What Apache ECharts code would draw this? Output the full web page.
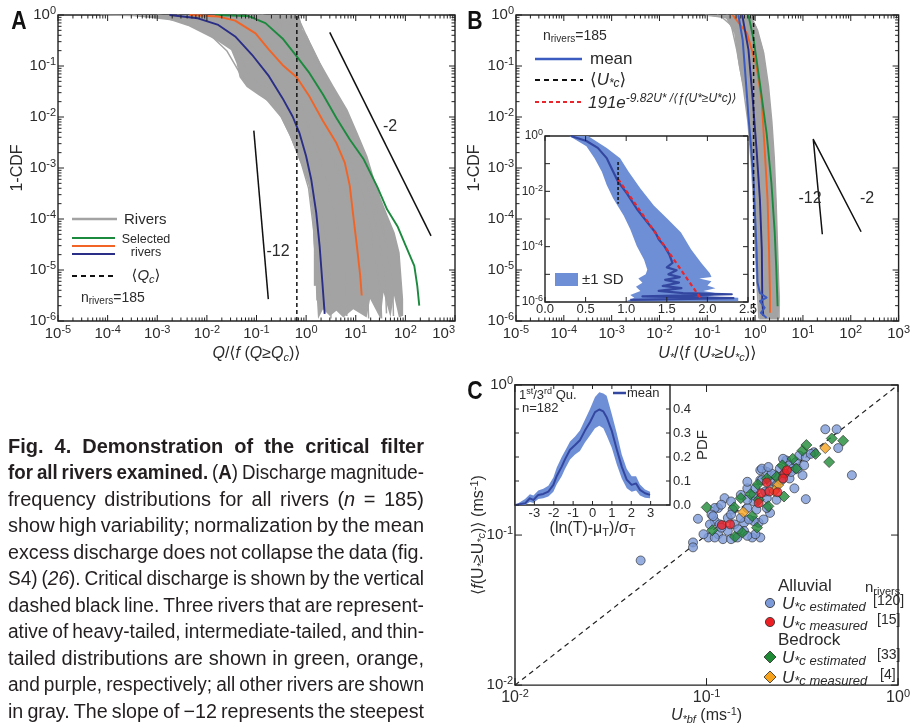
<!DOCTYPE html>
<html><head><meta charset="utf-8">
<script src="https://cdn.jsdelivr.net/npm/echarts@6/dist/echarts.min.js"></script>
<style>html,body{margin:0;padding:0;background:#fff}#c{width:913px;height:726px}</style>
</head><body><div id="c"></div><script>
// ---------------- DATA (exponents = log10 values) ----------------
// Panel A: [log10 x, log10 (1-CDF)]
const aBlueLog = [[-2.755,0],[-2.18,-0.065],[-1.77,-0.195],[-1.43,-0.42],[-1.09,-0.78],[-0.75,-1.2],[-0.476,-1.63],[-0.272,-1.99],[-0.136,-2.31],[0,-2.77],[0.102,-3.22],[0.204,-3.88],[0.272,-4.53],[0.327,-5.24],[0.374,-5.86]];
const aOrangeLog = [[-2.35,0],[-1.77,-0.03],[-1.43,-0.11],[-1.02,-0.36],[-0.75,-0.68],[-0.476,-0.98],[-0.19,-1.22],[0.068,-1.60],[0.34,-2.08],[0.61,-2.51],[0.78,-2.90],[0.88,-3.35],[0.95,-3.94],[1.03,-4.59],[1.09,-5.11],[1.12,-5.50]];
const aGreenLog = [[-1.84,0],[-1.16,-0.02],[-0.82,-0.16],[-0.476,-0.46],[-0.19,-0.81],[0.068,-1.14],[0.34,-1.56],[0.61,-2.02],[0.88,-2.44],[1.16,-2.83],[1.43,-3.36],[1.63,-3.81],[1.84,-4.14],[2.01,-4.53],[2.18,-4.92],[2.24,-5.31],[2.28,-5.70]];
const aGrayEnvelopeLog = [[-4.15,0],[-0.14,0],[-0.07,-0.29],[0.07,-0.55],[0.27,-0.94],[0.54,-1.40],[0.82,-1.86],[1.02,-2.31],[1.22,-2.77],[1.36,-3.22],[1.50,-3.62],[1.63,-3.94],[1.77,-4.27],[1.87,-4.66],[1.90,-5.05],[1.94,-5.57],[1.94,-5.90],[1.87,-5.93],[1.77,-5.50],[1.70,-5.93],[1.56,-5.44],[1.50,-5.96],[1.29,-5.57],[1.22,-5.93],[0.95,-5.77],[0.75,-5.93],[0.61,-5.80],[0.48,-5.90],[0.34,-5.77],[0.24,-5.96],[0.20,-5.31],[0.17,-5.31],[0.17,-4.59],[0.14,-3.94],[0.07,-3.36],[-0.07,-2.96],[-0.20,-2.64],[-0.34,-2.31],[-0.54,-1.92],[-0.75,-1.69],[-0.95,-1.56],[-1.19,-1.40],[-1.33,-1.21],[-1.39,-0.94],[-1.50,-0.68],[-1.84,-0.46],[-2.11,-0.33],[-2.38,-0.20],[-2.79,-0.07],[-3.47,-0.01]];
const aGrayRiversLog = [
 [[-4.15,0],[-3.47,-0.01],[-2.79,-0.07],[-2.38,-0.20],[-2.11,-0.33],[-1.84,-0.46],[-1.50,-0.68],[-1.39,-0.94],[-1.33,-1.21],[-1.19,-1.40],[-0.95,-1.56],[-0.75,-1.69],[-0.54,-1.92],[-0.34,-2.31],[-0.20,-2.64],[-0.07,-2.96],[0.07,-3.36],[0.14,-3.94],[0.17,-4.59],[0.17,-5.31]],
 [[-3.0,0],[-2.2,-0.1],[-1.7,-0.3],[-1.45,-0.55],[-1.3,-0.85],[-1.2,-1.1],[-1.0,-1.3],[-0.7,-1.5],[-0.45,-1.75],[-0.25,-2.1],[-0.05,-2.6],[0.1,-3.1],[0.2,-3.7],[0.25,-4.4],[0.27,-5.0],[0.28,-5.8]],
 [[-1.2,0],[-0.4,-0.02],[-0.14,-0.1],[0.07,-0.55],[0.27,-0.94],[0.54,-1.40],[0.82,-1.86],[1.02,-2.31],[1.22,-2.77],[1.36,-3.22],[1.50,-3.62],[1.63,-3.94],[1.77,-4.27],[1.87,-4.66],[1.90,-5.05],[1.94,-5.57],[1.94,-5.90]],
 [[-1.0,0],[-0.3,-0.05],[0.0,-0.4],[0.3,-1.0],[0.6,-1.6],[0.9,-2.3],[1.15,-2.9],[1.35,-3.5],[1.5,-4.0],[1.62,-4.5],[1.7,-5.0],[1.75,-5.5],[1.76,-5.9]],
 [[-1.4,0],[-0.6,-0.1],[-0.2,-0.5],[0.1,-1.1],[0.4,-1.7],[0.7,-2.4],[0.95,-3.0],[1.15,-3.6],[1.3,-4.2],[1.4,-4.8],[1.5,-5.4],[1.52,-5.95]],
 [[-1.8,0],[-0.9,-0.15],[-0.45,-0.6],[-0.1,-1.3],[0.2,-2.0],[0.5,-2.7],[0.75,-3.3],[0.95,-3.9],[1.1,-4.5],[1.2,-5.1],[1.25,-5.7],[1.26,-5.95]],
 [[-2.2,0],[-1.2,-0.2],[-0.7,-0.6],[-0.35,-1.2],[-0.05,-1.9],[0.2,-2.6],[0.45,-3.3],[0.6,-4.0],[0.72,-4.7],[0.8,-5.3],[0.82,-5.9]],
 [[-2.6,0],[-1.6,-0.25],[-1.0,-0.7],[-0.6,-1.3],[-0.3,-1.9],[-0.05,-2.6],[0.2,-3.3],[0.35,-4.0],[0.45,-4.8],[0.5,-5.5],[0.5,-5.95]],
 [[-0.9,0],[-0.2,-0.2],[0.15,-0.8],[0.5,-1.5],[0.85,-2.2],[1.1,-2.9],[1.3,-3.6],[1.45,-4.3],[1.55,-4.9],[1.6,-5.4],[1.62,-5.85]],
 [[-3.5,0],[-2.5,-0.12],[-1.9,-0.42],[-1.6,-0.7],[-1.45,-0.95],[-1.3,-1.2],[-1.05,-1.45],[-0.8,-1.65],[-0.5,-2.0],[-0.3,-2.4],[-0.1,-2.9],[0.05,-3.4],[0.15,-4.2],[0.2,-5.0],[0.22,-5.6]]
];
const aQc = 0.65;
const aSlope2Log = [[0.476,-0.34],[2.517,-4.33]];
const aSlope12Log = [[-1.054,-2.267],[-0.762,-5.57]];

// Panel B
const bGrayBandLog = [[-1.05,0],[-0.61,-0.065],[-0.44,-0.36],[-0.34,-1.01],[-0.20,-1.66],[-0.135,-2.32],[-0.07,-2.97],[-0.03,-3.62],[0.0,-4.27],[0.03,-4.92],[0.07,-5.58],[0.09,-5.97],[0.49,-5.97],[0.51,-5.58],[0.47,-4.6],[0.44,-3.62],[0.39,-2.64],[0.34,-1.99],[0.27,-1.34],[0.17,-0.68],[0.03,-0.23],[-0.10,0]];
const bGrayRiversLog = [
 [[-1.05,0],[-0.7,-0.04],[-0.5,-0.2],[-0.38,-0.7],[-0.25,-1.4],[-0.15,-2.1],[-0.08,-2.9],[-0.03,-3.7],[0.0,-4.5],[0.04,-5.3],[0.08,-5.95]],
 [[-0.1,0],[0.05,-0.3],[0.18,-0.75],[0.28,-1.4],[0.35,-2.1],[0.4,-2.8],[0.44,-3.7],[0.47,-4.6],[0.5,-5.5],[0.5,-5.95]],
 [[-0.8,0],[-0.45,-0.1],[-0.3,-0.5],[-0.15,-1.2],[-0.05,-2.0],[0.05,-2.8],[0.12,-3.6],[0.18,-4.5],[0.22,-5.4],[0.24,-5.95]],
 [[-0.6,0],[-0.3,-0.1],[-0.1,-0.6],[0.05,-1.3],[0.15,-2.0],[0.25,-2.9],[0.32,-3.8],[0.37,-4.7],[0.4,-5.6],[0.41,-5.95]]
];
const bMeanLog = [[-0.35,0],[-0.26,-0.49],[-0.19,-1.34],[-0.14,-1.99],[-0.08,-2.64],[-0.03,-3.29],[0.0,-3.95],[0.03,-4.6],[0.05,-5.25],[0.10,-5.45],[0.24,-5.54],[0.10,-5.61],[0.20,-5.74],[0.12,-5.84],[0.24,-5.94]];
const bBlueLog = [[-0.27,0],[-0.14,-0.68],[-0.05,-1.66],[0.03,-2.64],[0.10,-3.62],[0.14,-4.6],[0.15,-5.58],[0.17,-5.9]];
const bOrangeLog = [[-0.47,0],[-0.17,-0.36],[0.03,-1.01],[0.135,-1.66],[0.2,-2.64],[0.26,-3.62],[0.29,-4.6],[0.31,-5.45],[0.31,-5.84]];
const bGreenLog = [[-0.14,0],[-0.03,-0.49],[0.10,-1.34],[0.24,-2.32],[0.34,-3.29],[0.41,-4.27],[0.44,-4.92],[0.47,-5.71]];
const bUc = 0.93;
const bSlopeLog = [[1.405,-4.30],[1.216,-2.44],[2.216,-4.25]];

// Panel B inset: [x, log10 y]
const insBandLog = [[0.25,0],[0.53,0],[0.76,-0.43],[0.925,-0.8],[1.03,-1.29],[1.175,-1.90],[1.34,-2.51],[1.51,-3.0],[1.675,-3.49],[1.8,-4.1],[1.925,-4.59],[2.03,-4.96],[2.05,-5.1],[1.9,-5.15],[2.05,-5.25],[2.0,-5.4],[2.1,-5.5],[1.95,-5.6],[2.15,-5.7],[2.0,-5.8],[2.38,-5.85],[2.38,-5.97],[1.0,-5.97],[1.1,-5.85],[1.05,-5.75],[1.175,-5.6],[1.12,-5.45],[1.2,-5.3],[1.15,-5.15],[1.24,-5.0],[1.26,-4.83],[1.22,-4.47],[1.13,-3.98],[1.05,-3.37],[0.97,-2.88],[0.84,-2.26],[0.76,-1.77],[0.7,-1.29],[0.61,-0.8],[0.51,-0.37],[0.3,0]];
const insMeanLog = [[0.32,0],[0.51,-0.18],[0.65,-0.43],[0.76,-0.8],[0.84,-1.29],[0.9,-1.65],[1.01,-2.08],[1.13,-2.63],[1.26,-3.12],[1.36,-3.49],[1.40,-3.73],[1.47,-3.98],[1.53,-4.28],[1.57,-4.59],[1.50,-4.75],[1.62,-4.85],[1.52,-5.0],[1.66,-5.1],[1.48,-5.2],[1.65,-5.3],[1.45,-5.42],[1.68,-5.5],[1.40,-5.6],[1.70,-5.68],[2.30,-5.72],[1.20,-5.8],[2.32,-5.86],[1.05,-5.92]];
const insFitLog = [[0.9,-1.56],[1.92,-5.88]];
const insUcLog = [[0.9,-0.94],[0.9,-2.45]];

// Panel C (m/s)
const cAlluvialEstimated = [[0.0453,0.0677],[0.574,0.2506],[0.417,0.507],[0.478,0.507],[0.487,0.380],[0.330,0.1735],[0.2876,0.2048],[0.3171,0.2506],[0.0902,0.1283],[0.0850,0.0893],[0.0850,0.0828],[0.1104,0.1239],[0.1149,0.1013],[0.1218,0.0939],[0.1022,0.0963],[0.1292,0.1302],[0.1396,0.1178],[0.1570,0.1208],[0.1872,0.1208],[0.1909,0.0963],[0.1731,0.0963],[0.1242,0.1762],[0.1149,0.1515],[0.1104,0.1515],[0.1343,0.1675],[0.1510,0.1852],[0.1633,0.2048],[0.1909,0.2702],[0.2064,0.2634],[0.2146,0.2265],[0.2320,0.1718],[0.2146,0.1405],[0.2609,0.3143],[0.2713,0.2914],[0.2934,0.3064],[0.3050,0.3389],[0.3298,0.3305],[0.3636,0.3564],[0.1292,0.1065],[0.1570,0.1065],[0.1765,0.1852],[0.2064,0.1762],[0.2413,0.2771],[0.2509,0.2506],[0.2320,0.2154],[0.1633,0.1515],[0.1765,0.1675],[0.1909,0.2324],[0.1947,0.2771],[0.2024,0.1949],[0.2713,0.2382],[0.1369,0.1477],[0.1062,0.1370],[0.0964,0.1013],[0.1104,0.0963],[0.1510,0.1302],[0.1765,0.1239],[0.1800,0.1013],[0.1343,0.0939],[0.2275,0.2506],[0.2820,0.2771],[0.3498,0.3475],[0.1633,0.2265],[0.2509,0.3222],[0.2064,0.1515],[0.1194,0.1593],
 [0.1083,0.1336],[0.1171,0.1178],[0.1343,0.1370],[0.1463,0.1092],[0.1665,0.1270],[0.1821,0.1477],[0.1985,0.1270],[0.1633,0.1718],[0.1800,0.2048],[0.1947,0.2324],[0.2188,0.2570],[0.2460,0.2324],[0.2766,0.2634],[0.2992,0.2771],[0.3234,0.2914],[0.2104,0.2842],[0.1194,0.1120],[0.1042,0.1178],[0.1451,0.0963],[0.1633,0.0988]];
const cAlluvialMeasured = [[0.1203,0.1166],[0.1327,0.1178],[0.1872,0.1633],[0.1931,0.1900],[0.2064,0.2243],[0.2129,0.1949],[0.2348,0.1929],[0.2558,0.2570],[0.2629,0.2702],[0.2509,0.2382]];
const cBedrockEstimated = [[0.1002,0.1530],[0.1071,0.1076],[0.1396,0.1530],[0.1407,0.0973],[0.1539,0.1039],[0.1835,0.1120],[0.1510,0.1762],[0.1698,0.1871],[0.1850,0.2176],[0.2104,0.1554],[0.2538,0.1806],[0.2320,0.2443],[0.2489,0.2914],[0.2820,0.3222],[0.3171,0.3654],[0.3323,0.3981],[0.3708,0.3475],[0.4508,0.4403],[0.5168,0.4251],[0.4368,0.3064],[0.2064,0.2382],[0.1731,0.1336],[0.2934,0.2771],[0.1872,0.1718]];
const cBedrockMeasured = [[0.1558,0.1418],[0.2366,0.2154],[0.417,0.380],[0.2258,0.1968]];
const cOneToOne = [[0.01,0.01],[1,1]];

// Panel C inset
const insCx =    [-3.98,-3.48,-3.23,-3.05,-2.8,-2.54,-2.28,-2.02,-1.85,-1.59,-1.42,-1.16,-0.90,-0.65,-0.39,-0.13,0.13,0.35,0.56,0.73,0.99,1.25,1.51,1.77,2.02,2.25,2.45,2.71,2.97];
const insCMean = [0,0.007,0.028,0.021,0.042,0.046,0.056,0.084,0.12,0.16,0.19,0.23,0.25,0.27,0.31,0.345,0.387,0.398,0.39,0.366,0.31,0.232,0.16,0.105,0.084,0.09,0.063,0.049,0.042];
const insCUpper = [0,0.025,0.045,0.04,0.06,0.068,0.08,0.115,0.155,0.2,0.225,0.265,0.285,0.31,0.355,0.40,0.45,0.47,0.465,0.455,0.38,0.30,0.21,0.15,0.12,0.12,0.085,0.065,0.055];
const insCLower = [0,0,0.012,0.008,0.025,0.028,0.035,0.055,0.085,0.12,0.15,0.19,0.21,0.225,0.26,0.29,0.32,0.33,0.32,0.29,0.24,0.17,0.11,0.07,0.055,0.06,0.04,0.03,0.028];

// Tick label exponents / values
const aXExps = [-5,-4,-3,-2,-1,0,1,2,3];
const aYExps = [-6,-5,-4,-3,-2,-1,0];
const cExps = [-2,-1,0];
const insBX = [0,0.5,1,1.5,2,2.5];
const insCXTicks = [-3,-2,-1,0,1,2,3];
const insCYTicks = [0,0.1,0.2,0.3,0.4];

// ---------------- HELPERS ----------------
const FONT = '"Liberation Sans", Arial, "DejaVu Sans", sans-serif';
const CAPFONT = '"Liberation Sans", Arial, sans-serif';
const TXT = '#2b2b2b';
const GRAY = '#a3a3a3';
const toVal = a => a.map(p => [Math.pow(10, p[0]), Math.pow(10, p[1])]);
const toValY = a => a.map(p => [p[0], Math.pow(10, p[1])]);

const supRich = (fs, ss, raise) => ({
  b: {fontSize: fs, fontFamily: FONT, color: TXT},
  s: {fontSize: ss, fontFamily: FONT, color: TXT, padding: [0, 0, raise, 0]}
});
const logFmt = v => '{b|10}{s|' + Math.round(Math.log10(v)) + '}';

function line(xi, yi, data, color, width, z, dash) {
  return {type: 'line', xAxisIndex: xi, yAxisIndex: yi, data, showSymbol: false, symbol: 'none',
    silent: true, z: z || 3, clip: true,
    lineStyle: {color, width, type: dash || 'solid', cap: 'butt', join: 'round'}};
}
function poly(xi, yi, pts, color, z, opacity) {
  return {type: 'custom', xAxisIndex: xi, yAxisIndex: yi, silent: true, z: z || 1, clip: true,
    data: [pts[0]],
    renderItem(params, api) {
      return {type: 'polygon', shape: {points: pts.map(p => api.coord(p))},
        style: {fill: color, opacity: opacity == null ? 1 : opacity}};
    }};
}
function ticks(xi, yi, items) {
  return {type: 'custom', xAxisIndex: xi, yAxisIndex: yi, silent: true, z: 10, clip: false,
    data: items.map(it => [it[0], it[1]]),
    renderItem(params, api) {
      const it = items[params.dataIndex];
      const cs = params.coordSys;
      const p = api.coord([it[0], it[1]]);
      const kind = it[2], len = it[3];
      const L = [];
      if (kind === 0) {
        L.push([p[0], cs.y + cs.height, p[0], cs.y + cs.height - len]);
        L.push([p[0], cs.y, p[0], cs.y + len]);
      } else {
        L.push([cs.x, p[1], cs.x + len, p[1]]);
        L.push([cs.x + cs.width, p[1], cs.x + cs.width - len, p[1]]);
      }
      return {type: 'group', children: L.map(l => ({type: 'line',
        shape: {x1: l[0], y1: l[1], x2: l[2], y2: l[3]}, style: {stroke: '#222', lineWidth: 1}}))};
    }};
}
function logTickItems(exps, refOther, isY, major, minor) {
  const items = [];
  exps.forEach((e, i) => {
    const base = Math.pow(10, e);
    items.push(isY ? [refOther, base, 1, major] : [base, refOther, 0, major]);
    if (minor && i < exps.length - 1) for (let k = 2; k <= 9; k++) {
      const v = k * base;
      items.push(isY ? [refOther, v, 1, minor] : [v, refOther, 0, minor]);
    }
  });
  return items;
}
function linTickItems(vals, refOther, isY, len) {
  return vals.map(v => isY ? [refOther, v, 1, len] : [v, refOther, 0, len]);
}

// ---------------- AXES ----------------
const nameRich = {
  n: {fontSize: 16, fontFamily: FONT, color: TXT},
  i: {fontSize: 16, fontFamily: FONT, color: TXT, fontStyle: 'italic'},
  sub: {fontSize: 11, fontFamily: FONT, color: TXT, fontStyle: 'italic', padding: [7, 0, 0, 0]},
  sup: {fontSize: 11, fontFamily: FONT, color: TXT, padding: [0, 0, 8, 0]}
};
function logAxis(gi, min, max, isY, extra) {
  return Object.assign({type: 'log', logBase: 10, gridIndex: gi, min, max,
    axisLine: {show: false}, axisTick: {show: false}, splitLine: {show: false},
    axisLabel: {formatter: logFmt, rich: supRich(15, 11, 8), margin: isY ? 2 : 3}}, extra || {});
}
const xAxes = [
  logAxis(0, 1e-5, 1e3, false, {name: '{i|Q}{n|/⟨}{i|f}{n| (}{i|Q}{n|≥}{i|Q}{sub|c}{n|)⟩}', nameLocation: 'middle', nameGap: 24,
    nameTextStyle: {rich: nameRich}, axisLabel: {formatter: logFmt, rich: supRich(15, 11, 8), margin: 3, alignMaxLabel: 'right'}}),
  logAxis(1, 1e-5, 1e3, false, {name: '{i|U}{sub|*}{n|/⟨}{i|f}{n| (}{i|U}{sub|*}{n|≥}{i|U}{sub|*c}{n|)⟩}', nameLocation: 'middle', nameGap: 24,
    nameTextStyle: {rich: nameRich}}),
  {type: 'value', gridIndex: 2, min: 0, max: 2.5, interval: 0.5, axisLine: {show: false}, axisTick: {show: false}, splitLine: {show: false},
    axisLabel: {fontSize: 13, fontFamily: FONT, color: TXT, margin: 1, formatter: v => v.toFixed(1)}},
  logAxis(3, 0.01, 1, false, {name: '{i|U}{sub|*bf}{n| (ms}{sup|-1}{n|)}', nameLocation: 'middle', nameGap: 20, nameTextStyle: {rich: nameRich},
    axisLabel: {formatter: logFmt, rich: supRich(16, 11, 8), margin: 3}}),
  {type: 'value', gridIndex: 4, min: -4, max: 4, interval: 1, axisLine: {show: false}, axisTick: {show: false}, splitLine: {show: false},
    axisLabel: {fontSize: 13, fontFamily: FONT, color: TXT, margin: 2, formatter: v => (insCXTicks.indexOf(v) >= 0 ? String(v) : '')},
    name: '(ln(T)-μ{sub|T})/σ{sub|T}', nameLocation: 'middle', nameGap: 15,
    nameTextStyle: {fontSize: 16, fontFamily: FONT, color: TXT, rich: {sub: {fontSize: 11, fontFamily: FONT, color: TXT, padding: [7, 0, 0, 0]}}}}
];
const yAxes = [
  logAxis(0, 1e-6, 1, true, {name: '1-CDF', nameLocation: 'middle', nameGap: 31, nameRotate: 90,
    nameTextStyle: {fontSize: 16, fontFamily: FONT, color: TXT}}),
  logAxis(1, 1e-6, 1, true, {name: '1-CDF', nameLocation: 'middle', nameGap: 33, nameRotate: 90,
    nameTextStyle: {fontSize: 16, fontFamily: FONT, color: TXT}}),
  {type: 'log', logBase: 10, gridIndex: 2, min: 1e-6, max: 1, axisLine: {show: false}, axisTick: {show: false}, splitLine: {show: false},
    axisLabel: {margin: 2, rich: supRich(12, 9, 6), formatter: v => { const e = Math.round(Math.log10(v)); return e % 2 === 0 ? '{b|10}{s|' + e + '}' : ''; }}},
  logAxis(3, 0.01, 1, true, {name: '⟨{i|f}(U{sub|*}≥U{sub|*c})⟩ (ms{sup|-1})', nameLocation: 'middle', nameGap: 27, nameRotate: 90, nameMoveOverlap: false,
    nameTextStyle: {fontSize: 16, fontFamily: FONT, color: TXT, rich: nameRich}}),
  {type: 'value', gridIndex: 4, min: 0, max: 0.5, interval: 0.1, position: 'right', axisLine: {show: false}, axisTick: {show: false}, splitLine: {show: false},
    axisLabel: {fontSize: 13, fontFamily: FONT, color: TXT, margin: 3, showMaxLabel: false, formatter: v => (v < 0.45 ? v.toFixed(1) : '')},
    name: 'PDF', nameLocation: 'middle', nameGap: 24, nameRotate: 90, nameTextStyle: {fontSize: 15, fontFamily: FONT, color: TXT}}
];
const grids = [
  {left: 58, top: 15, width: 397, height: 306},
  {left: 516, top: 15, width: 395, height: 306},
  {left: 545, top: 136, width: 203, height: 166, backgroundColor: '#fff'},
  {left: 515, top: 385, width: 393, height: 305},
  {left: 515, top: 385, width: 155, height: 120, backgroundColor: '#fff'}
].map(g => Object.assign({show: true, borderColor: '#222', borderWidth: 1.4, backgroundColor: 'transparent', containLabel: false}, g));

// ---------------- SERIES ----------------
const S = [];
// Panel A
S.push(poly(0, 0, toVal(aGrayEnvelopeLog), GRAY, 1));
aGrayRiversLog.forEach(r => S.push(line(0, 0, toVal(r), GRAY, 1.5, 2)));
S.push(line(0, 0, toVal(aGreenLog), '#1c8a3e', 1.9, 4));
S.push(line(0, 0, toVal(aOrangeLog), '#f26425', 1.9, 4));
S.push(line(0, 0, toVal(aBlueLog), '#2a2e86', 1.9, 4));
S.push(line(0, 0, [[aQc, 1e-6], [aQc, 1]], '#111', 1.5, 5, [4, 3]));
S.push(line(0, 0, toVal(aSlope2Log), '#111', 1.5, 5));
S.push(line(0, 0, toVal(aSlope12Log), '#111', 1.5, 5));
S.push(ticks(0, 0, logTickItems(aXExps, 1e-6, false, 6, 3.5).concat(logTickItems(aYExps, 1e-5, true, 6, 3.5))));
// Panel B
S.push(poly(1, 1, toVal(bGrayBandLog), GRAY, 1));
bGrayRiversLog.forEach(r => S.push(line(1, 1, toVal(r), GRAY, 1.5, 2)));
S.push(line(1, 1, toVal(bOrangeLog), '#f26425', 1.9, 4));
S.push(line(1, 1, toVal(bGreenLog), '#1c8a3e', 1.9, 4));
S.push(line(1, 1, toVal(bBlueLog), '#2a2e86', 1.9, 4));
S.push(line(1, 1, toVal(bMeanLog), '#3b5bc0', 2, 4));
S.push(line(1, 1, [[bUc, 1e-6], [bUc, 1]], '#111', 1.5, 5, [4, 3]));
S.push(line(1, 1, toVal(bSlopeLog), '#111', 1.5, 5));
S.push(ticks(1, 1, logTickItems(aXExps, 1e-6, false, 6, 3.5).concat(logTickItems(aYExps, 1e-5, true, 6, 3.5))));
// Panel B inset
S.push(poly(2, 2, toValY(insBandLog), '#6e8fd6', 3));
S.push(line(2, 2, toValY(insMeanLog), '#3447a0', 2.2, 4));
S.push(line(2, 2, toValY(insFitLog), '#e8262b', 2.2, 5, [4, 3]));
S.push(line(2, 2, toValY(insUcLog), '#111', 1.5, 5, [3, 2]));
S.push(ticks(2, 2, linTickItems(insBX, 1e-6, false, 5).concat(logTickItems(aYExps, 0, true, 5, 0))));
// Panel C
S.push(line(3, 3, cOneToOne, '#222', 1.2, 2, [5, 4]));
const sc = (data, symbol, size, color) => ({type: 'scatter', xAxisIndex: 3, yAxisIndex: 3, data, symbol, symbolSize: size, silent: true, z: 4,
  itemStyle: {color, borderColor: '#2a2a2a', borderWidth: 0.8}});
S.push(sc(cAlluvialEstimated, 'circle', 9, '#7c9ad8'));
S.push(sc(cBedrockEstimated, 'diamond', 11, '#1f8a36'));
S.push(sc(cBedrockMeasured, 'diamond', 11, '#f6a21c'));
S.push(sc(cAlluvialMeasured, 'circle', 9, '#ec1f25'));
S.push(ticks(3, 3, logTickItems(cExps, 0.01, false, 7, 0).concat(logTickItems(cExps, 0.01, true, 7, 0))));
// Panel C inset
const insCBand = insCx.map((x, i) => [x, insCUpper[i]]).concat(insCx.map((x, i) => [x, insCLower[i]]).reverse());
S.push(poly(4, 4, insCBand, '#6e8fd6', 5));
S.push(line(4, 4, insCx.map((x, i) => [x, insCMean[i]]), '#3447a0', 2, 6));
S.push(ticks(4, 4, linTickItems(insCXTicks, 0, false, 4).concat(linTickItems(insCYTicks, -4, true, 4))));
S.forEach(s => { s.animation = false; });

// ---------------- GRAPHIC (labels, legends, caption) ----------------
const G = [];
function txt(x, y, text, size, opts) {
  opts = opts || {};
  G.push({type: 'text', x, y, silent: true, z: 100, scaleX: opts.scaleX || 1,
    style: {text, fontSize: size, fontFamily: opts.family || FONT, fontWeight: opts.weight || 'normal', fontStyle: opts.style || 'normal',
      fill: opts.color || TXT, align: opts.align || 'left', verticalAlign: 'middle', textAlign: opts.align || 'left', textVerticalAlign: 'middle',
      rich: opts.rich}});
}
function seg(x1, y1, x2, y2, color, w, dash) {
  G.push({type: 'line', silent: true, z: 100, shape: {x1, y1, x2, y2}, style: {stroke: color, lineWidth: w, lineDash: dash || null}});
}
const R = (fs) => ({
  n: {fontSize: fs, fontFamily: FONT, fill: TXT},
  i: {fontSize: fs, fontFamily: FONT, fill: TXT, fontStyle: 'italic'},
  sub: {fontSize: Math.round(fs * 0.72), fontFamily: FONT, fill: TXT, padding: [Math.round(fs * 0.45), 0, 0, 0]},
  isub: {fontSize: Math.round(fs * 0.72), fontFamily: FONT, fill: TXT, fontStyle: 'italic', padding: [Math.round(fs * 0.45), 0, 0, 0]},
  sup: {fontSize: Math.round(fs * 0.72), fontFamily: FONT, fill: TXT, padding: [0, 0, Math.round(fs * 0.5), 0]},
  isup: {fontSize: Math.round(fs * 0.72), fontFamily: FONT, fill: TXT, fontStyle: 'italic', padding: [0, 0, Math.round(fs * 0.5), 0]}
});
// panel letters
txt(19, 22, 'A', 25, {weight: 'bold', align: 'center', color: '#111', scaleX: 0.85});
txt(475, 22, 'B', 25, {weight: 'bold', align: 'center', color: '#111', scaleX: 0.85});
txt(475, 392, 'C', 25, {weight: 'bold', align: 'center', color: '#111', scaleX: 0.85});
// slope labels
txt(390, 127, '-2', 16, {align: 'center'});
txt(278, 252, '-12', 16, {align: 'center'});
txt(810, 199, '-12', 16, {align: 'center'});
txt(867, 199, '-2', 16, {align: 'center'});
// Legend A
seg(72, 219, 117, 219, GRAY, 2.5);
txt(124, 220, 'Rivers', 15);
seg(72, 238, 115, 238, '#1c8a3e', 2);
seg(72, 246, 115, 246, '#f26425', 2);
seg(72, 254, 115, 254, '#2a2e86', 2);
txt(146, 240, 'Selected', 12.5, {align: 'center'});
txt(146, 253, 'rivers', 12.5, {align: 'center'});
seg(72, 276, 115, 276, '#111', 1.8, [5, 4]);
txt(146, 276, '{n|⟨}{i|Q}{isub|c}{n|⟩}', 15, {align: 'center', rich: R(15)});
txt(81, 298, '{n|n}{sub|rivers}{n|=185}', 14, {rich: R(14)});
// Legend B
txt(543, 36, '{n|n}{sub|rivers}{n|=185}', 14, {rich: R(14)});
seg(535, 59, 582, 59, '#3b5bc0', 2.5);
txt(590, 59, 'mean', 17);
seg(535, 80, 583, 80, '#111', 1.8, [5, 4]);
txt(590, 80, '{n|⟨}{i|U}{isub|*c}{n|⟩}', 17, {rich: R(17)});
seg(535, 102, 583, 102, '#e8262b', 2, [4, 3]);
txt(588, 103, '{i|191e}{isup|-9.82U* /⟨ƒ(U*≥U*c)⟩}', 17, {rich: R(17)});
// inset B legend
G.push({type: 'rect', silent: true, z: 100, shape: {x: 555, y: 273, width: 23, height: 13}, style: {fill: '#6e8fd6'}});
txt(582, 280, '±1 SD', 15);
// inset C texts
txt(519, 395, '{n|1}{sup|st}{n|/3}{sup|rd}{n| Qu.}', 13, {rich: R(13)});
txt(522, 408, 'n=182', 13);
seg(613, 393, 626, 393, '#3447a0', 2.5);
txt(627, 393, 'mean', 13);
// Legend C
txt(778, 586, 'Alluvial', 17);
txt(865, 588, '{n|n}{sub|rivers}', 15, {rich: R(15)});
function circ(cx, cy, fill) { G.push({type: 'circle', silent: true, z: 100, shape: {cx, cy, r: 4.6}, style: {fill, stroke: '#2a2a2a', lineWidth: 0.8}}); }
function diam(cx, cy, fill) { G.push({type: 'polygon', silent: true, z: 100, shape: {points: [[cx, cy - 6], [cx + 6, cy], [cx, cy + 6], [cx - 6, cy]]}, style: {fill, stroke: '#2a2a2a', lineWidth: 0.8}}); }
const legC = R(17);
legC.s = {fontSize: 13, fontFamily: FONT, fill: TXT, fontStyle: 'italic', padding: [7, 0, 0, 0]};
circ(770, 603, '#7c9ad8'); txt(782, 604, '{i|U}{s|*c estimated}', 17, {rich: legC}); txt(873, 601, '[120]', 14);
circ(770, 622, '#ec1f25'); txt(782, 623, '{i|U}{s|*c measured}', 17, {rich: legC}); txt(877, 620, '[15]', 14);
txt(778, 640, 'Bedrock', 17);
diam(770, 657, '#1f8a36'); txt(782, 658, '{i|U}{s|*c estimated}', 17, {rich: legC}); txt(877, 655, '[33]', 14);
diam(770, 677, '#f6a21c'); txt(782, 678, '{i|U}{s|*c measured}', 17, {rich: legC}); txt(880, 675, '[4]', 14);

// Caption (justified by distributing word spacing)
const captionLines = [
 [['b','Fig. 4. Demonstration of the critical filter']],
 [['b','for all rivers examined. '],['n','('],['b','A'],['n',') Discharge magnitude-']],
 [['n','frequency distributions for all rivers ('],['i','n'],['n',' = 185)']],
 [['n','show high variability; normalization by the mean']],
 [['n','excess discharge does not collapse the data  (fig.']],
 [['n','S4) ('],['i','26'],['n','). Critical discharge is shown by the vertical']],
 [['n','dashed black line. Three rivers that are represent-']],
 [['n','ative of heavy-tailed, intermediate-tailed, and thin-']],
 [['n','tailed distributions are shown in green, orange,']],
 [['n','and purple, respectively; all other rivers are shown']],
 [['n','in gray. The slope of \u221212 represents the steepest']]
];
const CAPFS = 20, CAPX = 8, CAPW = 416, CAPY0 = 447, CAPDY = 26.5;
const capRich = {
  b: {fontSize: CAPFS, fontFamily: CAPFONT, fontWeight: 'bold', fill: '#231f20'},
  n: {fontSize: CAPFS, fontFamily: CAPFONT, fill: '#231f20'},
  i: {fontSize: CAPFS, fontFamily: CAPFONT, fontStyle: 'italic', fill: '#231f20'}
};
const mctx = document.createElement('canvas').getContext('2d');
const measure = (st, t) => { mctx.font = (st === 'i' ? 'italic ' : 'normal ') + (st === 'b' ? 'bold ' : 'normal ') + CAPFS + 'px ' + CAPFONT; return mctx.measureText(t).width; };
captionLines.forEach((ln, k) => {
  const words = []; let cur = [];
  ln.forEach(([st, t]) => {
    t.split(' ').forEach((p, j) => {
      if (j > 0 && cur.length) { words.push(cur); cur = []; }
      if (p) cur.push([st, p]);
    });
  });
  if (cur.length) words.push(cur);
  const widths = words.map(w => w.reduce((a, [st, t]) => a + measure(st, t), 0));
  const total = widths.reduce((a, b) => a + b, 0);
  const sp = measure('n', ' ');
  let gap = (CAPW - total) / (words.length - 1), scl = 1;
  if (gap < sp * 0.75) { gap = sp * 0.75; scl = CAPW / (total + gap * (words.length - 1)); }
  let x = CAPX;
  words.forEach((w, i) => {
    const str = w.map(([st, t]) => '{' + st + '|' + t + '}').join('');
    txt(x, CAPY0 + k * CAPDY, str, CAPFS, {rich: capRich, scaleX: scl, family: CAPFONT, color: '#231f20'});
    x += (widths[i] + gap) * scl;
  });
});

const chart = echarts.init(document.getElementById('c'), null, {renderer: 'canvas'});
chart.setOption({animation: false, backgroundColor: '#fff', grid: grids, xAxis: xAxes, yAxis: yAxes, series: S, graphic: {elements: G}});
</script></body></html>
